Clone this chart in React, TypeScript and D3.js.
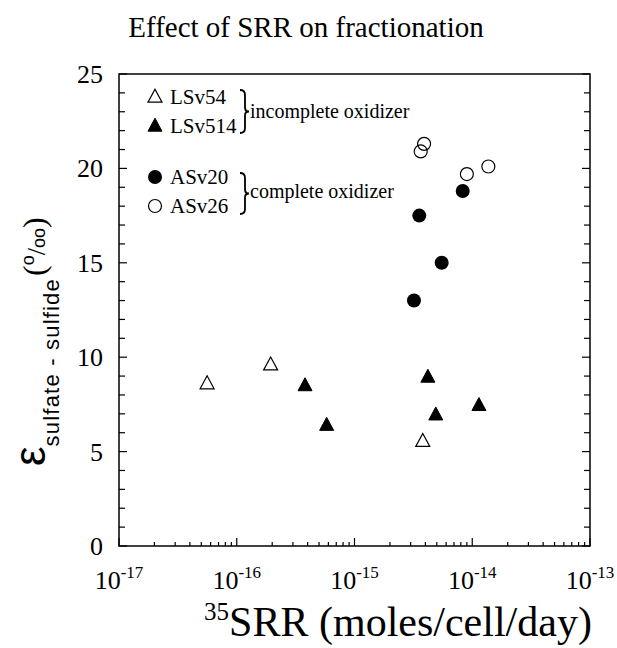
import React from 'react';
import * as d3 from 'd3';

const W = 617;
const H = 648;

const yTickValues = [0, 5, 10, 15, 20, 25];
const xDecades = [-17, -16, -15, -14, -13];

// LSv54 (open triangles)
const lsv54X = [5.6e-17, 1.94e-16, 3.8e-15];
const lsv54Y = [8.6, 9.6, 5.55];
// LSv514 (filled triangles)
const lsv514X = [3.8e-16, 5.8e-16, 4.2e-15, 4.9e-15, 1.14e-14];
const lsv514Y = [8.5, 6.4, 8.95, 6.95, 7.45];
// ASv20 (filled circles)
const asv20X = [3.2e-15, 3.55e-15, 5.5e-15, 8.3e-15];
const asv20Y = [13.0, 17.5, 15.0, 18.8];
// ASv26 (open circles)
const asv26X = [3.65e-15, 3.9e-15, 9.0e-15, 1.37e-14];
const asv26Y = [20.9, 21.3, 19.7, 20.1];

const SERIF = '"Liberation Serif", "Times New Roman", serif';
const SANS = '"Liberation Sans", Arial, sans-serif';

const PL = 119, PR = 590, PT = 74, PB = 546;

function triPath(cx: number, cy: number, w = 14, h = 13) {
  const p = d3.path();
  p.moveTo(cx, cy - h * 0.6);
  p.lineTo(cx + w / 2, cy + h * 0.4);
  p.lineTo(cx - w / 2, cy + h * 0.4);
  p.closePath();
  return p.toString();
}

function bracePath(x0: number, y0: number, y1: number) {
  const ym = (y0 + y1) / 2;
  const p = d3.path();
  p.moveTo(x0, y0);
  p.quadraticCurveTo(x0 + 5, y0, x0 + 5, y0 + 5);
  p.lineTo(x0 + 5, ym - 4);
  p.quadraticCurveTo(x0 + 5, ym, x0 + 9, ym);
  p.quadraticCurveTo(x0 + 5, ym, x0 + 5, ym + 4);
  p.lineTo(x0 + 5, y1 - 5);
  p.quadraticCurveTo(x0 + 5, y1, x0, y1);
  return p.toString();
}

export default function App() {
  const x = d3.scaleLog().domain([1e-17, 1e-13]).range([PL, PR]);
  const y = d3.scaleLinear().domain([0, 25]).range([PB, PT]);

  const yMinor = d3.range(0, 26);
  const xMinor: number[] = [];
  for (let d = -17; d < -13; d++) {
    for (let m = 1; m <= 9; m++) xMinor.push(m * Math.pow(10, d));
  }
  xMinor.push(1e-13);

  return (
    <svg width={W} height={H} style={{ position: 'absolute', left: 0, top: 0, background: '#fff' }}>
      <rect width={W} height={H} fill="#fff" />
      {/* title */}
      <text x={306} y={37} textAnchor="middle" fontFamily={SERIF} fontSize={29} fill="#000">
        Effect of SRR on fractionation
      </text>

      {/* frame */}
      <rect x={PL} y={PT} width={PR - PL} height={PB - PT} fill="none" stroke="#000" strokeWidth={1.5} />

      {/* y ticks left & right */}
      {yMinor.map((v) => {
        const len = v % 5 === 0 ? 8 : 6;
        return (
          <g key={'y' + v}>
            <line x1={PL} x2={PL + len} y1={y(v)} y2={y(v)} stroke="#000" strokeWidth={1.2} />
            <line x1={PR} x2={PR - len} y1={y(v)} y2={y(v)} stroke="#000" strokeWidth={1.2} />
          </g>
        );
      })}
      {yTickValues.map((v) => (
        <text key={'yl' + v} x={103} y={y(v) + 9} textAnchor="end" fontFamily={SERIF} fontSize={26} fill="#000">
          {v}
        </text>
      ))}

      {/* x ticks */}
      {xMinor.map((v, i) => {
        const major = Math.abs(Math.log10(v) - Math.round(Math.log10(v))) < 1e-9;
        const len = major ? 8 : 4;
        return <line key={'x' + i} x1={x(v)} x2={x(v)} y1={PB} y2={PB - len} stroke="#000" strokeWidth={1.2} />;
      })}
      {xDecades.map((d) => (
        <text key={'xl' + d} x={x(Math.pow(10, d))} y={589} textAnchor="middle" fontFamily={SERIF} fill="#000">
          <tspan fontSize={26}>10</tspan>
          <tspan fontSize={17} dy={-11}>{d}</tspan>
        </text>
      ))}

      {/* x title */}
      <text x={398} y={636} textAnchor="middle" fontFamily={SERIF} fill="#000">
        <tspan fontSize={25} dy={-16}>35</tspan>
        <tspan fontSize={42} dy={16}>SRR (moles/cell/day)</tspan>
      </text>

      {/* y title */}
      <text transform="translate(45,466) rotate(-90)" fill="#000">
        <tspan fontFamily={SANS} fontSize={44}>ε</tspan>
        <tspan fontFamily={SANS} fontSize={22} dy={14} letterSpacing={1.2}>sulfate - sulfide</tspan>
        <tspan fontFamily={SERIF} fontSize={32} dy={-14} dx={2}>(</tspan>
        <tspan fontFamily={SANS} fontSize={18} dy={-11}>o</tspan>
        <tspan fontFamily={SERIF} fontSize={26} dy={11}>/</tspan>
        <tspan fontFamily={SANS} fontSize={18}>oo</tspan>
        <tspan fontFamily={SERIF} fontSize={32}>)</tspan>
      </text>

      {/* data */}
      {lsv54X.map((v, i) => (
        <path key={'a' + i} d={triPath(x(v), y(lsv54Y[i]))} fill="#fff" stroke="#000" strokeWidth={1.2} />
      ))}
      {lsv514X.map((v, i) => (
        <path key={'b' + i} d={triPath(x(v), y(lsv514Y[i]))} fill="#000" stroke="#000" strokeWidth={1} />
      ))}
      {asv20X.map((v, i) => (
        <circle key={'c' + i} cx={x(v)} cy={y(asv20Y[i])} r={7} fill="#000" />
      ))}
      {asv26X.map((v, i) => (
        <circle key={'d' + i} cx={x(v)} cy={y(asv26Y[i])} r={6.5} fill="none" stroke="#000" strokeWidth={1.2} />
      ))}

      {/* legend */}
      <path d={triPath(155, 97)} fill="#fff" stroke="#000" strokeWidth={1.2} />
      <text x={170} y={104} fontFamily={SERIF} fontSize={21} fill="#000">LSv54</text>
      <path d={triPath(155, 126)} fill="#000" stroke="#000" strokeWidth={1} />
      <text x={170} y={133} fontFamily={SERIF} fontSize={21} fill="#000">LSv514</text>
      <path d={bracePath(240, 90, 133)} fill="none" stroke="#000" strokeWidth={1.8} />
      <text x={250} y={118} fontFamily={SERIF} fontSize={20} fill="#000">incomplete oxidizer</text>

      <circle cx={155} cy={177} r={7} fill="#000" />
      <text x={170} y={184} fontFamily={SERIF} fontSize={21} fill="#000">ASv20</text>
      <circle cx={155} cy={206} r={6.5} fill="none" stroke="#000" strokeWidth={1.2} />
      <text x={170} y={213} fontFamily={SERIF} fontSize={21} fill="#000">ASv26</text>
      <path d={bracePath(240, 173, 214)} fill="none" stroke="#000" strokeWidth={1.8} />
      <text x={250} y={198} fontFamily={SERIF} fontSize={20} fill="#000">complete oxidizer</text>
    </svg>
  );
}
